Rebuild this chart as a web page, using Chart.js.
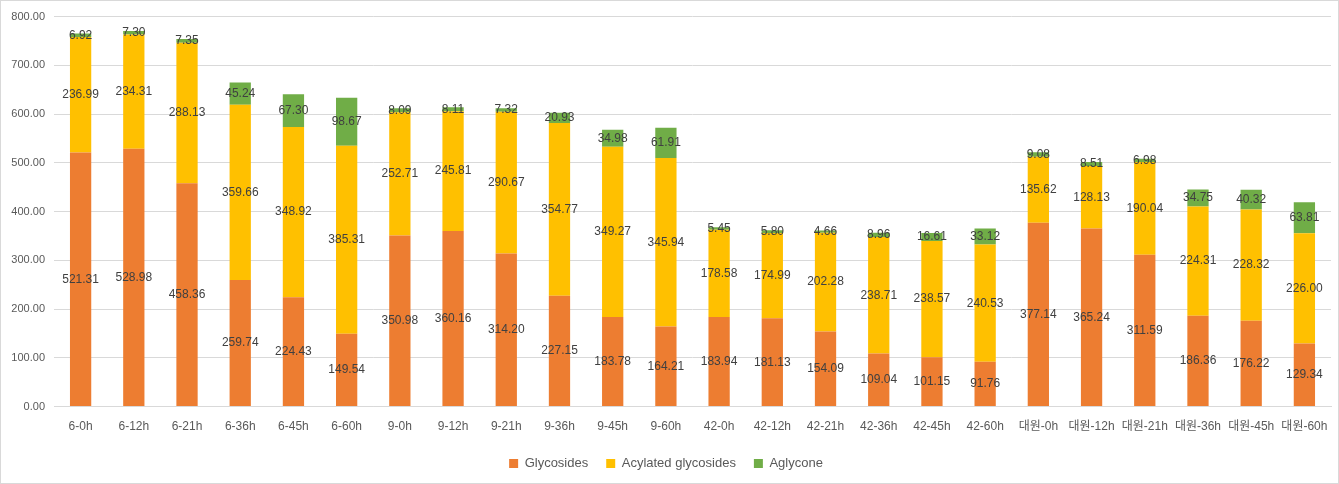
<!DOCTYPE html>
<html>
<head>
<meta charset="utf-8">
<script src="https://cdn.jsdelivr.net/npm/chart.js@4"></script>
<style>
  body { margin: 0; background: #fff; }
  #wrap { width: 1339px; height: 484px; box-sizing: border-box; border: 1px solid #d9d9d9; position: relative; }
</style>
</head>
<body>
<div id="wrap"><canvas id="barchart"></canvas></div>
<script>
'use strict';
const labels = ['6-0h', '6-12h', '6-21h', '6-36h', '6-45h', '6-60h',
    '9-0h', '9-12h', '9-21h', '9-36h', '9-45h', '9-60h',
    '42-0h', '42-12h', '42-21h', '42-36h', '42-45h', '42-60h',
    '대원-0h', '대원-12h', '대원-21h', '대원-36h', '대원-45h', '대원-60h'];
const glycosides = [521.31, 528.98, 458.36, 259.74, 224.43, 149.54, 350.98, 360.16, 314.20, 227.15, 183.78, 164.21,
    183.94, 181.13, 154.09, 109.04, 101.15, 91.76, 377.14, 365.24, 311.59, 186.36, 176.22, 129.34];
const acylated = [236.99, 234.31, 288.13, 359.66, 348.92, 385.31, 252.71, 245.81, 290.67, 354.77, 349.27, 345.94,
    178.58, 174.99, 202.28, 238.71, 238.57, 240.53, 135.62, 128.13, 190.04, 224.31, 228.32, 226.00];
const aglycone = [6.92, 7.30, 7.35, 45.24, 67.30, 98.67, 8.09, 8.11, 7.32, 20.93, 34.98, 61.91,
    5.45, 5.80, 4.66, 8.96, 16.61, 33.12, 9.08, 8.51, 6.98, 34.75, 40.32, 63.81];
const yTicks = [0, 100, 200, 300, 400, 500, 600, 700, 800];

const FONT = '"Liberation Sans", "Noto Sans CJK KR", sans-serif';

// draws each value in the middle of its segment
const segmentLabels = {
    id: 'segmentLabels',
    afterDatasetsDraw(chart) {
        const ctx = chart.ctx;
        ctx.save();
        ctx.font = '12px ' + FONT;
        ctx.fillStyle = '#404040';
        ctx.textAlign = 'center';
        ctx.textBaseline = 'middle';
        chart.data.datasets.forEach((ds, i) => {
            chart.getDatasetMeta(i).data.forEach((bar, j) => {
                const p = bar.getProps(['x', 'y', 'base'], true);
                ctx.fillText(ds.data[j].toFixed(2), p.x, (p.y + p.base) / 2);
            });
        });
        ctx.restore();
    }
};

new Chart(document.querySelector('#barchart'), {
    type: 'bar',
    data: {
        labels: labels,
        datasets: [{
            label: 'Glycosides',
            data: glycosides,
            backgroundColor: '#ED7D31'
        },
        {
            label: 'Acylated glycosides',
            data: acylated,
            backgroundColor: '#FFC000'
        },
        {
            label: 'Aglycone',
            data: aglycone,
            backgroundColor: '#70AD47'
        }
    ]},
    options: {
        responsive: true,
        maintainAspectRatio: false,
        animation: false,
        barPercentage: 0.4,
        categoryPercentage: 1,
        layout: { padding: { left: 0, right: 7, top: 7, bottom: 3 } },
        plugins: {
            tooltip: { enabled: false },
            legend: {
                position: 'bottom',
                labels: {
                    boxWidth: 9,
                    boxHeight: 9,
                    padding: 18,
                    color: '#595959',
                    font: { family: FONT, size: 13 }
                }
            }
        },
        scales: {
            x: {
                stacked: true,
                grid: { display: false },
                border: { color: '#d9d9d9' },
                ticks: { color: '#595959', font: { family: FONT, size: 12 }, maxRotation: 0, autoSkip: false, padding: 5 }
            },
            y: {
                stacked: true,
                min: 0,
                max: 800,
                afterBuildTicks: scale => { scale.ticks = yTicks.map(v => ({ value: v })); },
                afterFit: scale => { scale.width = 53; },
                grid: { color: '#d9d9d9', drawTicks: false },
                border: { display: false },
                ticks: {
                    color: '#595959',
                    font: { family: FONT, size: 11 },
                    padding: 9,
                    callback: v => v.toFixed(2)
                }
            }
        }
    },
    plugins: [segmentLabels]
});
</script>
</body>
</html>
